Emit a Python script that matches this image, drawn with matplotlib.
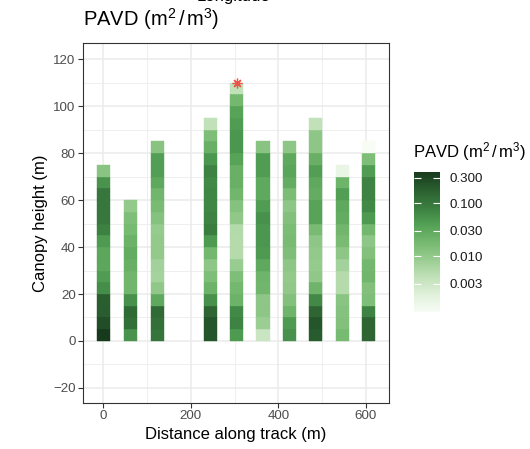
import numpy as np
import matplotlib.pyplot as plt
from matplotlib.colors import LogNorm, LinearSegmentedColormap
from matplotlib.cm import ScalarMappable
from matplotlib.ticker import NullLocator

plt.rcParams['font.family'] = ['Liberation Sans', 'DejaVu Sans']
plt.rcParams['mathtext.fontset'] = 'custom'
plt.rcParams['mathtext.rm'] = 'Liberation Sans'
plt.rcParams['mathtext.it'] = 'Liberation Sans:italic'

# distance along track of each footprint (m)
dist = [0, 62, 123, 245, 305, 365, 425, 486, 546, 607]
bin_size = 5  # height bins (m)

# PAVD per height bin, from the ground up
pavd = [
    [0.39, 0.25, 0.19, 0.18, 0.059, 0.043, 0.032, 0.032, 0.046, 0.079, 0.10, 0.10, 0.10, 0.052, 0.012],
    [0.052, 0.12, 0.135, 0.055, 0.020, 0.020, 0.024, 0.027, 0.0225, 0.0177, 0.0148, 0.0097],
    [0.107, 0.12, 0.135, 0.030, 0.0103, 0.0068, 0.0072, 0.0097, 0.0097, 0.0092, 0.013, 0.0167,
     0.020, 0.030, 0.041, 0.041, 0.0124],
    [0.22, 0.22, 0.153, 0.055, 0.0225, 0.0148, 0.011, 0.0188, 0.046, 0.084, 0.0745, 0.070, 0.070,
     0.066, 0.0745, 0.049, 0.024, 0.0148, 0.004],
    [0.046, 0.0745, 0.066, 0.0225, 0.0188, 0.0148, 0.0087, 0.005, 0.005, 0.0053, 0.0103, 0.013,
     0.020, 0.024, 0.024, 0.036, 0.049, 0.049, 0.043, 0.036, 0.0188, 0.004],
    [0.0033, 0.0081, 0.011, 0.011, 0.020, 0.0212, 0.030, 0.046, 0.049, 0.049, 0.055, 0.043, 0.030,
     0.030, 0.043, 0.043, 0.0124],
    [0.055, 0.046, 0.0212, 0.014, 0.0103, 0.0097, 0.011, 0.0148, 0.0167, 0.0157, 0.014, 0.011,
     0.0157, 0.027, 0.034, 0.030, 0.011],
    [0.194, 0.22, 0.153, 0.066, 0.0212, 0.0103, 0.0092, 0.0097, 0.011, 0.0167, 0.036, 0.036, 0.027,
     0.030, 0.041, 0.024, 0.011, 0.011, 0.004],
    [0.0177, 0.014, 0.013, 0.0117, 0.005, 0.005, 0.0072, 0.011, 0.0167, 0.020, 0.027, 0.030, 0.041,
     0.0212, 0.0014],
    [0.153, 0.153, 0.0745, 0.0148, 0.014, 0.020, 0.0188, 0.014, 0.011, 0.0188, 0.046, 0.066, 0.0745,
     0.0745, 0.043, 0.0148, 0.0009],
]

# tallest canopy top marker
top_x = 305
top_h = 110

cbar_ticks = [0.3, 0.1, 0.03, 0.01, 0.003]
cbar_labels = ['0.300', '0.100', '0.030', '0.010', '0.003']

# muted Greens, as in the picture
greens = ['#f7fcf5', '#dff0d9', '#bfe0b7', '#98cc90', '#74b86e',
          '#52a055', '#3a7d3f', '#2a5e2f', '#173a1c']
cmap = LinearSegmentedColormap.from_list('greens_muted', greens)

W, H = 530, 449
fig = plt.figure(figsize=(W / 100, H / 100), dpi=100)
ax = fig.add_axes([83.3 / W, 1 - 402.7 / H, 305.7 / W, 359.4 / H])

all_vals = np.concatenate([np.array(c) for c in pavd])
norm = LogNorm(vmin=all_vals.min(), vmax=all_vals.max())

for x, col in zip(dist, pavd):
    v = np.array(col)
    z = np.arange(len(v)) * bin_size
    cols = cmap(norm(v))
    ax.bar(np.full(len(v), x), bin_size, width=30, bottom=z, color=cols,
           edgecolor=cols, linewidth=0.3, zorder=2)

ax.plot([top_x], [top_h], marker=(8, 2, 0), ms=7, mew=0.9, color='#e8554a', zorder=3)

ax.set_xlim(-45.7, 653)
ax.set_ylim(-26.3, 126.8)
ax.set_xticks([0, 200, 400, 600])
ax.set_xticks([100, 300, 500], minor=True)
ax.set_yticks(range(-20, 121, 20))
ax.set_yticks(range(-10, 111, 20), minor=True)
ax.grid(which='major', color='#ebebeb', lw=1.1, zorder=0)
ax.grid(which='minor', color='#ebebeb', lw=0.55, zorder=0)
ax.set_axisbelow(True)
ax.tick_params(which='major', length=3.5, width=0.8, color='#333333',
               labelsize=9.6, labelcolor='#4d4d4d', pad=2)
ax.tick_params(which='minor', length=0)
for s in ax.spines.values():
    s.set_color('#333333')
    s.set_linewidth(0.8)

ax.set_xlabel('Distance along track (m)', fontsize=12, labelpad=3)
ax.set_ylabel('Canopy height (m)', fontsize=12, labelpad=4)

unit = r'PAVD ($\mathrm{m}^2\,/\,\mathrm{m}^3$)'
fig.text(83 / W, 1 - 26 / H, unit, fontsize=14.5, va='baseline', ha='left')
# clipped title of the panel above
fig.text(233 / W, 1 - 1 / H, 'Longitude', fontsize=12, va='baseline', ha='center')

# colour bar
cax = fig.add_axes([414 / W, 1 - 311.7 / H, 26 / W, 140 / H])
cb = fig.colorbar(ScalarMappable(norm=norm, cmap=cmap), cax=cax)
cb.outline.set_visible(False)
cb.set_ticks(cbar_ticks)
cb.set_ticklabels(cbar_labels)
cax.yaxis.set_minor_locator(NullLocator())
cax.yaxis.set_ticks_position('both')
cax.tick_params(direction='in', length=5, width=0.8, color='white',
                labelleft=False, labelright=True, labelsize=9.6,
                labelcolor='#1a1a1a', pad=7)
fig.text(413 / W, 1 - 152 / H, unit, fontsize=12, va='center', ha='left')

fig.savefig('out.png', dpi=100)
